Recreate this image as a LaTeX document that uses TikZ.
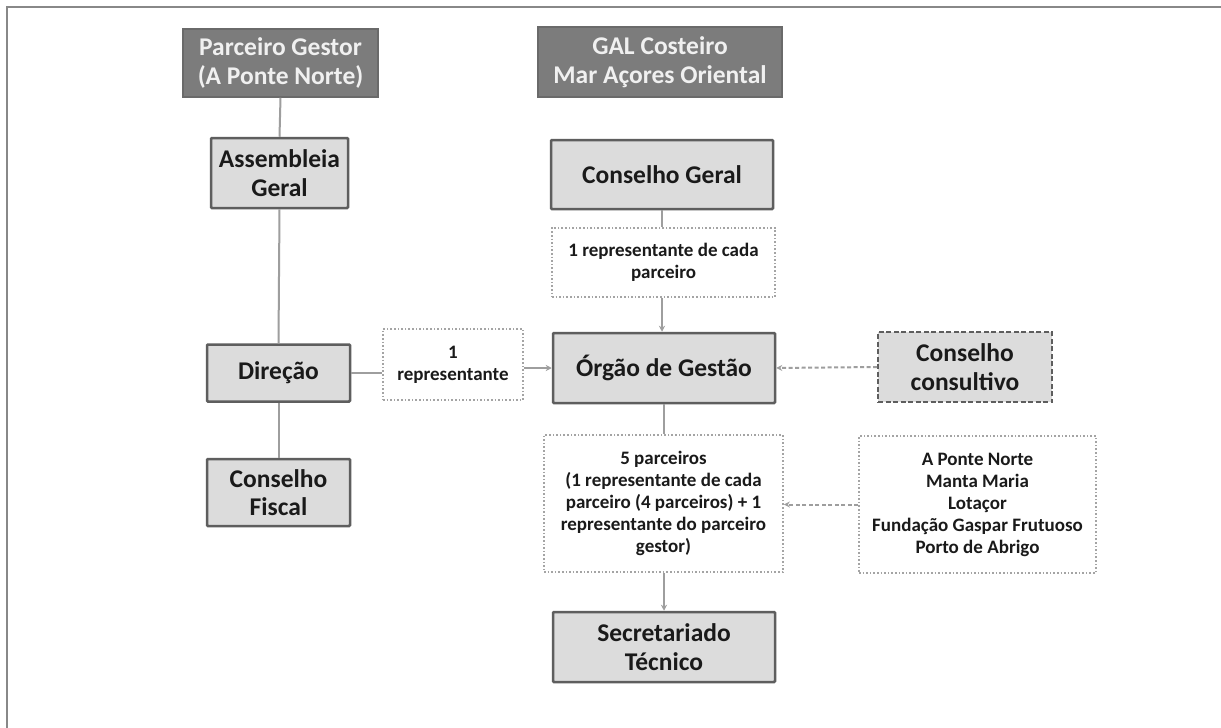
\documentclass[tikz,border=0pt]{standalone}
\usepackage{fontspec}
\setmainfont{Carlito}
\usetikzlibrary{arrows.meta}
\definecolor{boxfill}{HTML}{DCDCDC}
\definecolor{boxdraw}{HTML}{5E5E5E}
\definecolor{darkfill}{HTML}{7C7C7C}
\definecolor{darkdraw}{HTML}{6A6A6A}
\definecolor{darktext}{HTML}{F0F0F0}
\definecolor{conn}{HTML}{9E9E9E}
\definecolor{dotdraw}{HTML}{A4A4A4}
\definecolor{framec}{HTML}{888888}
\definecolor{txt}{HTML}{1A1A1A}
\tikzset{
  base/.style={rectangle, align=center, inner sep=0pt, font=\bfseries\fontsize{25.5}{28.5}\selectfont},
  darkbox/.style={base, fill=darkfill, draw=darkdraw, line width=1.5pt, text=darktext},
  greybox/.style={base, fill=boxfill, draw=boxdraw, line width=2.5pt, text=txt, rounded corners=1pt},
  dotbox/.style={rectangle, align=center, inner sep=0pt, fill=white, draw=dotdraw, line width=1.6pt, dotted, text=txt, font=\bfseries\fontsize{19}{22}\selectfont},
  dashbox/.style={base, fill=boxfill, draw=boxdraw, line width=2pt, dash pattern=on 5pt off 2.5pt, text=txt},
  link/.style={draw=conn, line width=2pt},
  arr/.style={link, -{Stealth[length=6pt,width=6pt]}},
  darr/.style={arr, dash pattern=on 4pt off 2.5pt}
}
\begin{document}
\begin{tikzpicture}[x=1pt,y=-1pt]
\useasboundingbox (0,0) rectangle (1221,728);
\fill[white] (0,0) rectangle (1221,728);
\draw[framec, line width=2pt] (7,728) -- (7,7) -- (1221,7);

\node[darkbox, minimum width=195pt, minimum height=68pt] (pg) at (280.5,63) {Parceiro Gestor\\(A Ponte Norte)};
\node[darkbox, minimum width=244pt, minimum height=70pt] (gal) at (660,62) {GAL Costeiro\\Mar Açores Oriental};

\node[greybox, minimum width=137pt, minimum height=70pt] (ag) at (279.5,173) {Assembleia\\Geral};
\node[greybox, minimum width=143pt, minimum height=57pt] (dir) at (278.5,373) {Direção};
\node[greybox, minimum width=143pt, minimum height=67pt] (cf) at (278.5,492.5) {Conselho\\Fiscal};

\node[dotbox, minimum width=140pt, minimum height=71pt] (rep1) at (453,364.5) {1\\representante};

\node[greybox, minimum width=222pt, minimum height=69pt] (cg) at (662,174.5) {Conselho Geral};
\node[dotbox, minimum width=223pt, minimum height=69pt] (rep2) at (663.5,262.5) {1 representante de cada\\parceiro};
\node[greybox, minimum width=222pt, minimum height=70pt] (org) at (664,368) {Órgão de Gestão};
\node[dashbox, minimum width=174pt, minimum height=70pt] (cc) at (965,367) {Conselho\\consultivo};
\node[dotbox, minimum width=239pt, minimum height=137pt] (p5) at (663.5,503.5) {5 parceiros\\(1 representante de cada\\parceiro (4 parceiros) + 1\\representante do parceiro\\gestor)};
\node[dotbox, minimum width=237pt, minimum height=137pt] (names) at (977.5,504.5) {A Ponte Norte\\Manta Maria\\Lotaçor\\Fundação Gaspar Frutuoso\\Porto de Abrigo};
\node[greybox, minimum width=222pt, minimum height=70pt] (sec) at (664,647) {Secretariado\\Técnico};

\path[link] (pg.south) -- (ag.north);
\path[link] (ag.south) -- (dir.north);
\path[link] (dir.south) -- (cf.north);
\path[link] (dir.east) -- (rep1.west |- dir.east);
\path[arr] (rep1.east |- org.west) -- (org.west);
\path[link] (cg.south) -- (cg.south |- rep2.north);
\path[arr] (cg.south |- rep2.south) -- (cg.south |- org.north);
\path[darr] (cc.west) -- (org.east);
\path[link] (org.south) -- (org.south |- p5.north);
\path[arr] (org.south |- p5.south) -- (sec.north);
\path[darr] (names.west) -- (p5.east |- names.west);
\end{tikzpicture}
\end{document}
